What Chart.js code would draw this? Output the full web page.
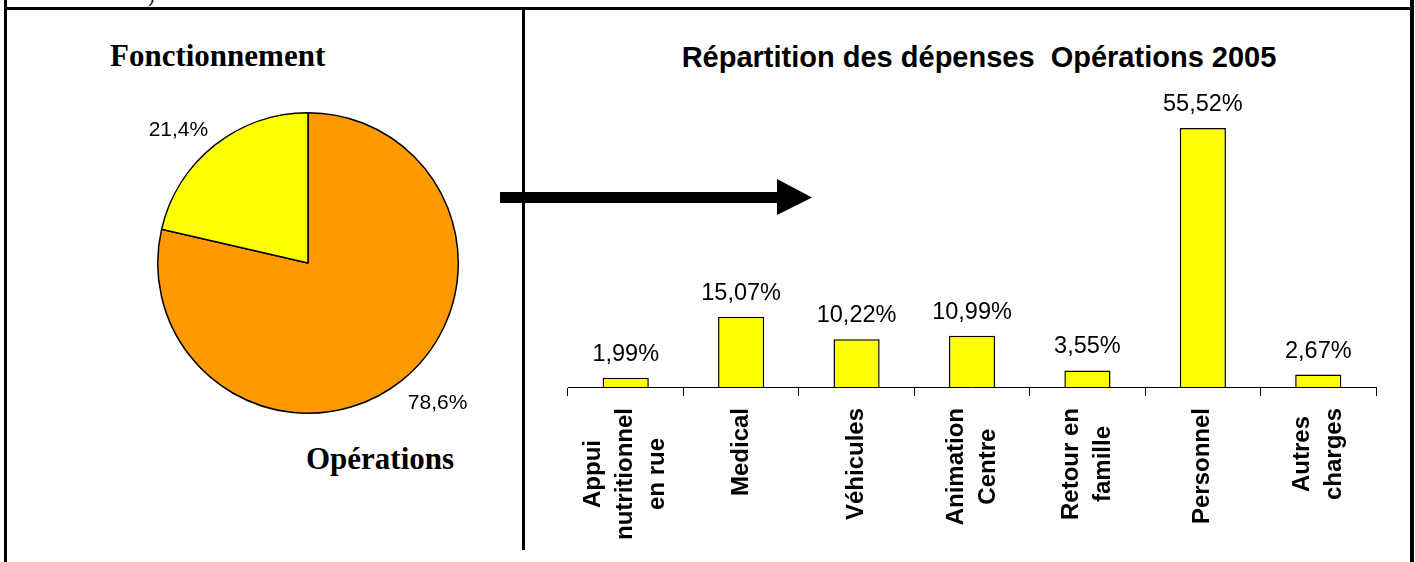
<!DOCTYPE html>
<html><head><meta charset="utf-8">
<script src="https://cdn.jsdelivr.net/npm/chart.js@4/dist/chart.umd.min.js"></script>
<style>
html,body{margin:0;padding:0;background:#fff;}
body{width:1415px;height:562px;position:relative;overflow:hidden;}
.ln{position:absolute;background:#000;}
.t{position:absolute;white-space:pre;color:#000;}
canvas{position:absolute;}
</style></head><body>
<div class="t" style="left:148px;top:-16px;font:20px 'Liberation Serif',serif;">)</div>
<div class="ln" style="left:4px;top:7px;width:1410px;height:3px;"></div>
<div class="ln" style="left:4px;top:0;width:3px;height:562px;"></div>
<div class="ln" style="left:1410px;top:0;width:4px;height:562px;"></div>
<div class="ln" style="left:522px;top:10px;width:3px;height:540px;"></div>

<div class="t" style="left:110px;top:40px;font:bold 31px/31px 'Liberation Serif',serif;">Fonctionnement</div>
<div class="t" style="left:306px;top:443px;font:bold 31px/31px 'Liberation Serif',serif;">Opérations</div>
<div class="t" style="left:679px;width:600px;text-align:center;top:43px;font:bold 29px/29px 'Liberation Sans',Arial,sans-serif;">Répartition des dépenses  Opérations 2005</div>

<canvas id="pie" width="512" height="550" style="left:8px;top:11px;"></canvas>
<canvas id="bar" width="884" height="540" style="left:526px;top:10px;"></canvas>

<svg style="position:absolute;left:0;top:0;" width="1415" height="562">
  <polygon points="500,192 777,192 777,179 812,197.5 777,215 777,203 500,203" fill="#000"/>
</svg>

<script>
// ---- data ----
const pieLabels = ['Opérations', 'Fonctionnement'];
const pieValues = [78.6, 21.4];
const pieColors = ['#FF9900', '#FFFF00'];

const barCategories = [
  ['Appui', 'nutritionnel', 'en rue'],
  ['Medical'],
  ['Véhicules'],
  ['Animation', 'Centre'],
  ['Retour en', 'famille'],
  ['Personnel'],
  ['Autres', 'charges']
];
const barValues = [1.99, 15.07, 10.22, 10.99, 3.55, 55.52, 2.67];
const barYMax = 60;

function fmt(v, d) { return v.toFixed(d).replace('.', ',') + '%'; }

const pieLabelPlugin = {
  id: 'pieLabelPlugin',
  afterDatasetsDraw(chart) {
    const ctx = chart.ctx;
    const meta = chart.getDatasetMeta(0);
    ctx.save();
    ctx.font = '21px "Liberation Sans", Arial, sans-serif';
    ctx.fillStyle = '#000';
    meta.data.forEach((arc, i) => {
      const mid = (arc.startAngle + arc.endAngle) / 2;
      const c = Math.cos(mid), s = Math.sin(mid);
      const r = arc.outerRadius + 10;
      let x = arc.x + c * r, y = arc.y + s * r;
      ctx.textAlign = c < 0 ? 'right' : 'left';
      ctx.textBaseline = s < 0 ? 'bottom' : 'top';
      y += s > 0 ? 4 : 3;
      ctx.fillText(fmt(pieValues[i], 1), x, y);
    });
    ctx.restore();
  }
};

new Chart(document.getElementById('pie'), {
  type: 'pie',
  data: {
    labels: pieLabels,
    datasets: [{ data: pieValues, backgroundColor: pieColors, borderColor: '#000', borderWidth: 1.5 }]
  },
  options: {
    responsive: false, animation: false, devicePixelRatio: 1,
    layout: { padding: { left: 149, right: 61, top: 101, bottom: 147 } },
    plugins: { legend: { display: false }, tooltip: { enabled: false } }
  },
  plugins: [pieLabelPlugin]
});

const barValuePlugin = {
  id: 'barValuePlugin',
  afterDatasetsDraw(chart) {
    const ctx = chart.ctx;
    const meta = chart.getDatasetMeta(0);
    ctx.save();
    ctx.font = '23.5px "Liberation Sans", Arial, sans-serif';
    ctx.fillStyle = '#000';
    ctx.textAlign = 'center';
    ctx.textBaseline = 'alphabetic';
    meta.data.forEach((bar, i) => {
      ctx.fillText(fmt(barValues[i], 2), bar.x, bar.y - 17);
    });
    ctx.restore();
  }
};

const catLabelPlugin = {
  id: 'catLabelPlugin',
  afterDraw(chart) {
    const xs = chart.scales.x;
    const ctx = chart.ctx;
    ctx.save();
    ctx.font = 'bold 24px "Liberation Sans", Arial, sans-serif';
    ctx.fillStyle = '#000';
    ctx.textAlign = 'center';
    ctx.textBaseline = 'middle';
    const top = xs.top + 21;
    const lh = 32;
    barCategories.forEach((lines, i) => {
      const x = xs.getPixelForValue(i);
      const W = Math.max(...lines.map(l => ctx.measureText(l).width));
      ctx.save();
      ctx.translate(x, top);
      ctx.rotate(-Math.PI / 2);
      lines.forEach((l, j) => {
        ctx.fillText(l, -W / 2, (j - (lines.length - 1) / 2) * lh);
      });
      ctx.restore();
    });
    ctx.restore();
  }
};

new Chart(document.getElementById('bar'), {
  type: 'bar',
  data: {
    labels: barCategories.map(c => c.join(' ')),
    datasets: [{
      data: barValues, backgroundColor: '#FFFF00', borderColor: '#000', borderWidth: 1.5,
      categoryPercentage: 0.8, barPercentage: 0.5
    }]
  },
  options: {
    responsive: false, animation: false, devicePixelRatio: 1,
    layout: { padding: { left: 42, right: 34, top: 97, bottom: 0 } },
    plugins: { legend: { display: false }, tooltip: { enabled: false } },
    scales: {
      x: {
        offset: true,
        grid: { offset: true, display: true, drawOnChartArea: false, drawTicks: true, tickLength: 9, color: '#000', lineWidth: 1 },
        border: { display: true, color: '#000', width: 1 },
        ticks: { display: false },
        afterFit(s) { s.height = 163; }
      },
      y: { display: false, min: 0, max: barYMax }
    }
  },
  plugins: [barValuePlugin, catLabelPlugin]
});
</script>
</body></html>
